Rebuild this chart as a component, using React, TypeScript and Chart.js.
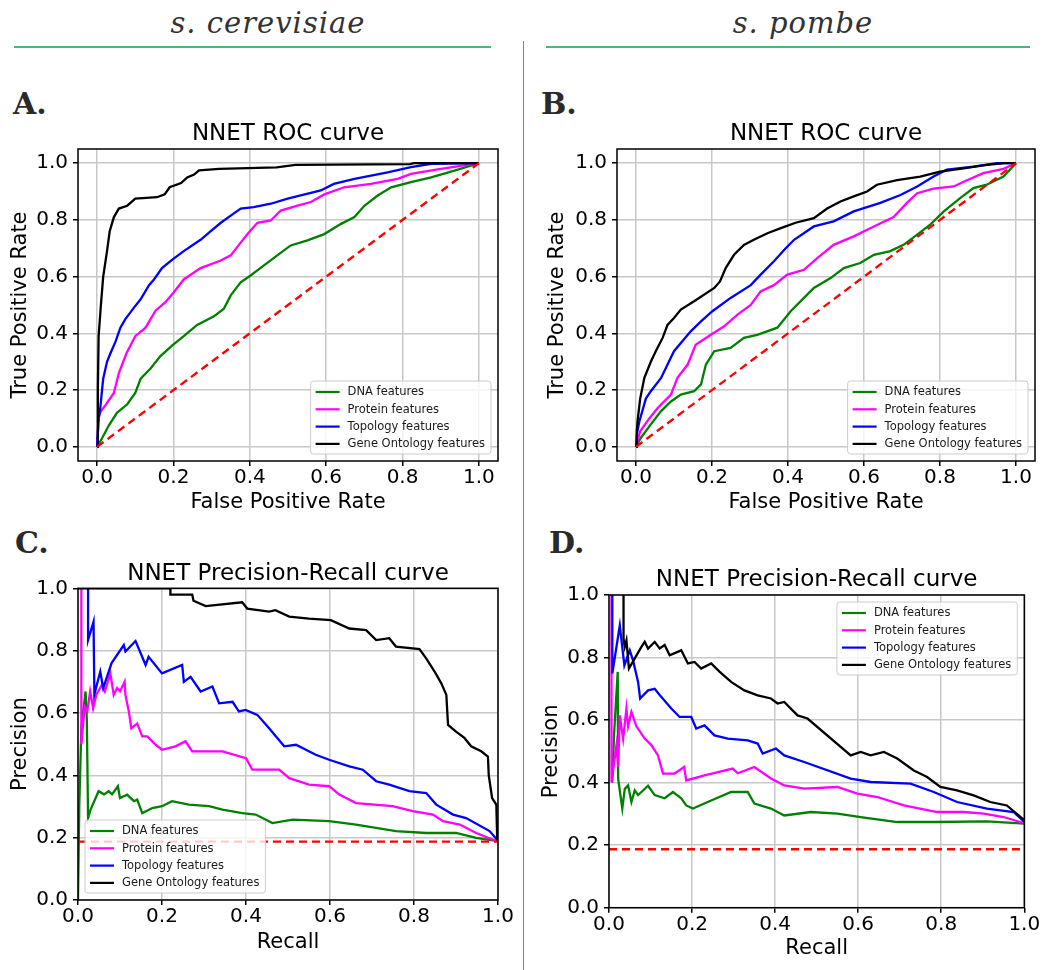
import React, { useEffect, useRef } from "react";
import { Chart, registerables } from "chart.js";

Chart.register(...registerables);

type Pt = [number, number];

// ---------- shared labels / ticks ----------
const TICKS = [0, 0.2, 0.4, 0.6, 0.8, 1.0];
const SERIES_LABELS = ["DNA features", "Protein features", "Topology features", "Gene Ontology features"];
const SERIES_COLORS = ["#008000", "#ff00ff", "#0000ff", "#000000"];
const ROC_BASELINE: Pt[] = [[0, 0], [1, 1]];
const PR_BASELINE_VALUE = 0.187;

// ---------- Panel A : s. cerevisiae ROC ----------
const A_DNA: Pt[] = [[0,0],[0.013,0.03],[0.031,0.076],[0.052,0.12],[0.079,0.15],[0.1,0.19],[0.114,0.24],[0.14,0.276],[0.166,0.32],[0.197,0.358],[0.227,0.39],[0.262,0.43],[0.306,0.46],[0.332,0.487],[0.35,0.534],[0.376,0.58],[0.402,0.604],[0.437,0.64],[0.472,0.675],[0.507,0.71],[0.551,0.728],[0.595,0.75],[0.639,0.786],[0.674,0.81],[0.7,0.85],[0.735,0.886],[0.77,0.915],[0.822,0.933],[0.875,0.95],[0.936,0.974],[1,1]];
const A_PROT: Pt[] = [[0,0],[0.004,0.1],[0.007,0.12],[0.022,0.147],[0.044,0.19],[0.057,0.26],[0.077,0.33],[0.1,0.39],[0.127,0.42],[0.153,0.48],[0.179,0.51],[0.201,0.545],[0.227,0.59],[0.271,0.63],[0.324,0.657],[0.35,0.675],[0.376,0.72],[0.394,0.75],[0.42,0.79],[0.455,0.798],[0.481,0.833],[0.525,0.85],[0.56,0.863],[0.595,0.89],[0.647,0.915],[0.717,0.927],[0.787,0.945],[0.822,0.962],[0.892,0.978],[1,1]];
const A_TOPO: Pt[] = [[0,0],[0.004,0.1],[0.007,0.12],[0.016,0.24],[0.026,0.3],[0.035,0.33],[0.048,0.37],[0.061,0.42],[0.074,0.45],[0.096,0.49],[0.114,0.52],[0.136,0.57],[0.149,0.59],[0.17,0.63],[0.197,0.66],[0.227,0.69],[0.271,0.73],[0.297,0.76],[0.324,0.79],[0.35,0.815],[0.376,0.84],[0.41,0.845],[0.455,0.857],[0.499,0.875],[0.586,0.904],[0.62,0.927],[0.674,0.945],[0.761,0.968],[0.822,0.986],[0.875,0.998],[1,1]];
const A_GO: Pt[] = [[0,0],[0.002,0.2],[0.004,0.39],[0.01,0.5],[0.016,0.6],[0.026,0.69],[0.033,0.76],[0.044,0.81],[0.057,0.84],[0.079,0.85],[0.1,0.875],[0.157,0.88],[0.177,0.89],[0.19,0.915],[0.22,0.93],[0.236,0.95],[0.254,0.96],[0.267,0.975],[0.32,0.98],[0.47,0.985],[0.52,0.994],[0.82,0.997],[0.83,1],[1,1]];

// ---------- Panel B : s. pombe ROC ----------
const B_DNA: Pt[] = [[0,0],[0.013,0.032],[0.039,0.079],[0.066,0.126],[0.092,0.16],[0.118,0.184],[0.153,0.196],[0.171,0.22],[0.184,0.29],[0.206,0.337],[0.249,0.349],[0.284,0.384],[0.319,0.395],[0.372,0.42],[0.407,0.478],[0.442,0.525],[0.468,0.56],[0.512,0.595],[0.547,0.63],[0.59,0.648],[0.626,0.677],[0.669,0.69],[0.704,0.712],[0.74,0.748],[0.774,0.783],[0.81,0.83],[0.853,0.877],[0.888,0.912],[0.923,0.924],[0.967,0.953],[1,1]];
const B_PROT: Pt[] = [[0,0],[0.011,0.055],[0.035,0.1],[0.057,0.137],[0.092,0.184],[0.109,0.243],[0.136,0.29],[0.157,0.36],[0.197,0.395],[0.232,0.425],[0.267,0.466],[0.302,0.5],[0.328,0.548],[0.363,0.57],[0.398,0.607],[0.442,0.624],[0.477,0.665],[0.52,0.712],[0.573,0.742],[0.626,0.777],[0.678,0.81],[0.713,0.86],[0.74,0.894],[0.783,0.91],[0.836,0.918],[0.871,0.94],[0.914,0.965],[0.967,0.98],[1,1]];
const B_TOPO: Pt[] = [[0,0],[0.003,0.05],[0.009,0.09],[0.026,0.17],[0.039,0.196],[0.066,0.243],[0.083,0.29],[0.1,0.337],[0.118,0.366],[0.144,0.407],[0.171,0.442],[0.201,0.478],[0.249,0.525],[0.302,0.57],[0.328,0.607],[0.363,0.654],[0.394,0.7],[0.416,0.73],[0.468,0.777],[0.52,0.795],[0.573,0.83],[0.643,0.86],[0.696,0.888],[0.74,0.918],[0.783,0.953],[0.818,0.977],[0.888,0.988],[0.95,1],[1,1]];
const B_GO: Pt[] = [[0,0],[0.002,0.05],[0.004,0.09],[0.011,0.17],[0.022,0.243],[0.039,0.3],[0.052,0.337],[0.07,0.384],[0.083,0.43],[0.1,0.454],[0.118,0.484],[0.153,0.513],[0.206,0.56],[0.221,0.583],[0.236,0.63],[0.258,0.677],[0.284,0.712],[0.31,0.73],[0.346,0.753],[0.381,0.771],[0.42,0.79],[0.468,0.806],[0.503,0.84],[0.538,0.865],[0.573,0.883],[0.608,0.9],[0.634,0.924],[0.687,0.94],[0.748,0.953],[0.8,0.97],[0.862,0.982],[0.923,0.994],[0.97,1],[1,1]];

// ---------- Panel C : s. cerevisiae Precision-Recall ----------
const C_DNA: Pt[] = [[0,0],[0.003,0.3],[0.008,0.55],[0.012,0.6],[0.018,0.669],[0.021,0.58],[0.024,0.263],[0.03,0.29],[0.049,0.349],[0.062,0.339],[0.073,0.349],[0.081,0.339],[0.095,0.365],[0.1,0.327],[0.117,0.338],[0.133,0.317],[0.141,0.322],[0.153,0.279],[0.177,0.295],[0.2,0.301],[0.224,0.317],[0.264,0.306],[0.312,0.301],[0.344,0.29],[0.391,0.279],[0.423,0.274],[0.463,0.247],[0.511,0.258],[0.598,0.253],[0.662,0.242],[0.757,0.221],[0.829,0.215],[0.9,0.215],[0.948,0.199],[1,0.189]];
const C_PROT: Pt[] = [[0.008,1],[0.008,0.5],[0.016,0.62],[0.022,0.605],[0.029,0.669],[0.036,0.615],[0.044,0.66],[0.057,0.69],[0.064,0.669],[0.077,0.727],[0.085,0.658],[0.093,0.68],[0.1,0.669],[0.111,0.7],[0.113,0.658],[0.121,0.605],[0.127,0.551],[0.141,0.566],[0.153,0.525],[0.165,0.525],[0.185,0.498],[0.2,0.482],[0.232,0.493],[0.256,0.509],[0.272,0.477],[0.344,0.477],[0.4,0.455],[0.415,0.418],[0.479,0.418],[0.503,0.391],[0.55,0.37],[0.598,0.365],[0.622,0.338],[0.662,0.311],[0.749,0.301],[0.797,0.285],[0.845,0.274],[0.869,0.253],[0.909,0.242],[0.948,0.215],[1,0.187]];
const C_TOPO: Pt[] = [[0.024,1],[0.024,0.834],[0.037,0.893],[0.039,0.66],[0.053,0.733],[0.06,0.68],[0.08,0.76],[0.109,0.818],[0.113,0.797],[0.137,0.831],[0.161,0.754],[0.168,0.78],[0.2,0.727],[0.248,0.754],[0.252,0.7],[0.268,0.716],[0.292,0.669],[0.32,0.685],[0.336,0.631],[0.368,0.636],[0.383,0.605],[0.399,0.61],[0.427,0.594],[0.455,0.551],[0.491,0.493],[0.519,0.498],[0.566,0.466],[0.598,0.45],[0.646,0.429],[0.678,0.418],[0.71,0.381],[0.741,0.37],[0.789,0.349],[0.829,0.343],[0.853,0.306],[0.893,0.274],[0.924,0.263],[0.98,0.221],[1,0.19]];
const C_GO: Pt[] = [[0,1],[0.22,1],[0.22,0.98],[0.272,0.98],[0.275,0.96],[0.304,0.943],[0.391,0.955],[0.403,0.935],[0.455,0.925],[0.47,0.93],[0.503,0.909],[0.55,0.903],[0.602,0.898],[0.646,0.871],[0.686,0.866],[0.71,0.834],[0.741,0.84],[0.757,0.813],[0.813,0.805],[0.829,0.775],[0.849,0.733],[0.865,0.695],[0.877,0.658],[0.881,0.562],[0.9,0.54],[0.92,0.52],[0.936,0.493],[0.96,0.477],[0.976,0.46],[0.978,0.4],[0.986,0.327],[0.996,0.306],[0.998,0.2],[1,0.19]];

// ---------- Panel D : s. pombe Precision-Recall ----------
const D_DNA: Pt[] = [[0.008,0.4],[0.012,0.55],[0.021,0.754],[0.022,0.413],[0.032,0.317],[0.038,0.38],[0.046,0.391],[0.054,0.338],[0.062,0.375],[0.07,0.36],[0.078,0.37],[0.094,0.39],[0.11,0.36],[0.134,0.35],[0.154,0.37],[0.174,0.35],[0.186,0.327],[0.202,0.317],[0.246,0.343],[0.294,0.37],[0.334,0.37],[0.35,0.333],[0.39,0.317],[0.422,0.295],[0.486,0.306],[0.55,0.301],[0.606,0.29],[0.694,0.274],[0.79,0.274],[0.91,0.276],[1,0.269]];
const D_PROT: Pt[] = [[0.006,1],[0.006,0.402],[0.018,0.52],[0.022,0.45],[0.026,0.615],[0.034,0.54],[0.042,0.637],[0.046,0.58],[0.054,0.626],[0.066,0.58],[0.086,0.541],[0.102,0.52],[0.118,0.487],[0.13,0.429],[0.158,0.429],[0.181,0.45],[0.186,0.407],[0.23,0.423],[0.298,0.445],[0.31,0.43],[0.35,0.45],[0.39,0.413],[0.422,0.391],[0.47,0.381],[0.55,0.386],[0.598,0.365],[0.646,0.354],[0.71,0.327],[0.79,0.306],[0.854,0.306],[0.902,0.301],[0.95,0.29],[1,0.27]];
const D_TOPO: Pt[] = [[0.008,1],[0.008,0.749],[0.026,0.903],[0.037,0.775],[0.05,0.823],[0.058,0.79],[0.07,0.722],[0.075,0.669],[0.094,0.695],[0.11,0.7],[0.122,0.68],[0.15,0.637],[0.17,0.61],[0.198,0.61],[0.21,0.573],[0.23,0.583],[0.254,0.551],[0.286,0.541],[0.334,0.535],[0.358,0.525],[0.37,0.493],[0.402,0.509],[0.422,0.487],[0.47,0.466],[0.582,0.413],[0.63,0.402],[0.726,0.397],[0.782,0.37],[0.838,0.338],[0.91,0.317],[0.974,0.306],[1,0.274]];
const D_GO: Pt[] = [[0.035,1],[0.035,0.86],[0.038,0.834],[0.042,0.855],[0.048,0.765],[0.078,0.834],[0.086,0.85],[0.094,0.829],[0.11,0.85],[0.122,0.829],[0.134,0.84],[0.146,0.807],[0.174,0.823],[0.19,0.781],[0.206,0.786],[0.222,0.765],[0.246,0.781],[0.266,0.755],[0.294,0.722],[0.326,0.695],[0.358,0.679],[0.39,0.669],[0.406,0.653],[0.422,0.658],[0.454,0.615],[0.478,0.605],[0.582,0.487],[0.606,0.498],[0.63,0.487],[0.662,0.498],[0.694,0.477],[0.734,0.439],[0.766,0.418],[0.798,0.386],[0.838,0.375],[0.878,0.359],[0.918,0.338],[0.958,0.327],[1,0.28]];

const FONT = "'DejaVu Sans', sans-serif";

type LegendPos = "lower right" | "lower left" | "upper right";

interface PanelSpec {
  left: number; top: number; width: number; height: number;
  title: string; xLabel: string; yLabel: string;
  series: Pt[][]; baseline: Pt[]; range: [number, number];
  pad: { left: number; right: number; top: number; bottom: number };
  titlePad: { top: number; bottom: number };
  yAxisW: number; yTitlePad: number;
  xAxisH: number; xTitlePad: number;
  legend: LegendPos;
}

function roundRect(ctx: CanvasRenderingContext2D, x: number, y: number, w: number, h: number, r: number) {
  ctx.beginPath();
  ctx.moveTo(x + r, y);
  ctx.lineTo(x + w - r, y);
  ctx.arcTo(x + w, y, x + w, y + r, r);
  ctx.lineTo(x + w, y + h - r);
  ctx.arcTo(x + w, y + h, x + w - r, y + h, r);
  ctx.lineTo(x + r, y + h);
  ctx.arcTo(x, y + h, x, y + h - r, r);
  ctx.lineTo(x, y + r);
  ctx.arcTo(x, y, x + r, y, r);
  ctx.closePath();
}

function makeOverlay(pos: LegendPos) {
  return {
    id: "frameAndLegend",
    afterDatasetsDraw(chart: any) {
      const ctx: CanvasRenderingContext2D = chart.ctx;
      const a = chart.chartArea;
      ctx.save();
      // frame (spines)
      ctx.strokeStyle = "#000";
      ctx.lineWidth = 1.5;
      ctx.strokeRect(a.left, a.top, a.right - a.left, a.bottom - a.top);
      // legend
      const items = chart.data.datasets
        .filter((d: any) => d.legendIndex !== undefined)
        .sort((p: any, q: any) => p.legendIndex - q.legendIndex);
      ctx.font = `11.5px ${FONT}`;
      const tw = Math.max(...items.map((d: any) => ctx.measureText(d.label).width));
      const w = tw + 43;
      const h = 73;
      const m = 7;
      const x = pos.includes("right") ? a.right - m - w : a.left + m;
      const y = pos.includes("lower") ? a.bottom - m - h : a.top + m;
      roundRect(ctx, x, y, w, h, 3);
      ctx.fillStyle = "rgba(255,255,255,0.8)";
      ctx.fill();
      ctx.strokeStyle = "#cccccc";
      ctx.lineWidth = 1;
      ctx.stroke();
      items.forEach((d: any, i: number) => {
        const cy = y + 11 + i * 17.3;
        ctx.beginPath();
        ctx.strokeStyle = d.borderColor;
        ctx.lineWidth = 2.2;
        ctx.moveTo(x + 5, cy);
        ctx.lineTo(x + 29, cy);
        ctx.stroke();
        ctx.fillStyle = "#1a1a1a";
        ctx.textBaseline = "middle";
        ctx.textAlign = "left";
        ctx.fillText(d.label, x + 37, cy + 0.5);
      });
      ctx.restore();
    },
  };
}

function makeConfig(p: PanelSpec): any {
  const toXY = (pts: Pt[]) => pts.map(([x, y]) => ({ x, y }));
  const curveSets = p.series.map((pts, i) => ({
    label: SERIES_LABELS[i],
    legendIndex: i,
    data: toXY(pts),
    borderColor: SERIES_COLORS[i],
    backgroundColor: SERIES_COLORS[i],
    borderWidth: 2.3,
    pointRadius: 0,
    showLine: true,
    tension: 0,
    fill: false,
  }));
  const baseSet = {
    label: "baseline",
    data: toXY(p.baseline),
    borderColor: "#ff0000",
    backgroundColor: "#ff0000",
    borderWidth: 2.3,
    borderDash: [8, 5],
    pointRadius: 0,
    showLine: true,
    tension: 0,
    fill: false,
  };
  // dataset 0 is drawn on top in Chart.js
  const datasets = [baseSet, ...curveSets.slice().reverse()];
  const axisCommon = (isX: boolean, label: string) => ({
    type: "linear",
    min: p.range[0],
    max: p.range[1],
    afterBuildTicks: (s: any) => {
      s.ticks = TICKS.map((v) => ({ value: v }));
    },
    afterFit: (s: any) => {
      if (isX) s.height = p.xAxisH;
      else s.width = p.yAxisW;
    },
    ticks: {
      font: { family: FONT, size: 20 },
      color: "#000",
      padding: isX ? 0 : 5,
      maxRotation: 0,
      autoSkip: false,
      callback: (v: any) => Number(v).toFixed(1),
    },
    grid: {
      color: "#c8c8c8",
      lineWidth: 1.5,
      tickLength: 5,
      tickColor: "#000",
      tickWidth: 1.5,
    },
    border: { display: false },
    title: {
      display: true,
      text: label,
      color: "#000",
      font: { family: FONT, size: 21 },
      padding: isX ? { top: 0, bottom: p.xTitlePad } : { top: p.yTitlePad, bottom: 0 },
    },
  });
  return {
    type: "scatter",
    data: { datasets },
    options: {
      animation: false,
      responsive: false,
      maintainAspectRatio: false,
      devicePixelRatio: 1,
      layout: { padding: p.pad },
      scales: {
        x: { ...axisCommon(true, p.xLabel), position: "bottom" },
        y: { ...axisCommon(false, p.yLabel), position: "left" },
      },
      plugins: {
        legend: { display: false },
        tooltip: { enabled: false },
        title: {
          display: true,
          text: p.title,
          color: "#000",
          fullSize: false,
          font: { family: FONT, size: 23, weight: "normal" },
          padding: p.titlePad,
        },
      },
    },
    plugins: [makeOverlay(p.legend)],
  };
}

const PR_BASELINE: Pt[] = [[0, PR_BASELINE_VALUE], [1, PR_BASELINE_VALUE]];

const PANELS: PanelSpec[] = [
  {
    left: 0, top: 110, width: 520, height: 410,
    title: "NNET ROC curve", xLabel: "False Positive Rate", yLabel: "True Positive Rate",
    series: [A_DNA, A_PROT, A_TOPO, A_GO], baseline: ROC_BASELINE, range: [-0.05, 1.05],
    pad: { left: 0, right: 22, top: 0, bottom: 0 }, titlePad: { top: 10, bottom: 1.4 },
    yAxisW: 78, yTitlePad: 8.4, xAxisH: 59, xTitlePad: 4.4, legend: "lower right",
  },
  {
    left: 520, top: 110, width: 527, height: 410,
    title: "NNET ROC curve", xLabel: "False Positive Rate", yLabel: "True Positive Rate",
    series: [B_DNA, B_PROT, B_TOPO, B_GO], baseline: ROC_BASELINE, range: [-0.05, 1.05],
    pad: { left: 17, right: 12, top: 0, bottom: 0 }, titlePad: { top: 10, bottom: 1.4 },
    yAxisW: 80, yTitlePad: 8.4, xAxisH: 59, xTitlePad: 4.4, legend: "lower right",
  },
  {
    left: 0, top: 550, width: 520, height: 420,
    title: "NNET Precision-Recall curve", xLabel: "Recall", yLabel: "Precision",
    series: [C_DNA, C_PROT, C_TOPO, C_GO], baseline: PR_BASELINE, range: [0, 1],
    pad: { left: 0, right: 22, top: 0, bottom: 11 }, titlePad: { top: 10, bottom: 0.7 },
    yAxisW: 78, yTitlePad: 8.4, xAxisH: 59, xTitlePad: 3.9, legend: "lower left",
  },
  {
    left: 520, top: 550, width: 527, height: 420,
    title: "NNET Precision-Recall curve", xLabel: "Recall", yLabel: "Precision",
    series: [D_DNA, D_PROT, D_TOPO, D_GO], baseline: PR_BASELINE, range: [0, 1],
    pad: { left: 11, right: 22.7, top: 0, bottom: 3.3 }, titlePad: { top: 16, bottom: 1.4 },
    yAxisW: 78, yTitlePad: 8.4, xAxisH: 59, xTitlePad: 5.1, legend: "upper right",
  },
];

function Panel({ spec }: { spec: PanelSpec }) {
  const ref = useRef<HTMLCanvasElement>(null);
  useEffect(() => {
    const chart = new Chart(ref.current as HTMLCanvasElement, makeConfig(spec));
    return () => chart.destroy();
  }, [spec]);
  return (
    <canvas
      ref={ref}
      width={spec.width}
      height={spec.height}
      style={{ position: "absolute", left: spec.left, top: spec.top, width: spec.width, height: spec.height }}
    />
  );
}

const LETTERS: { text: string; left: number; top: number }[] = [
  { text: "A.", left: 13, top: 89 },
  { text: "B.", left: 541, top: 89 },
  { text: "C.", left: 15, top: 528 },
  { text: "D.", left: 549, top: 528 },
];

export default function App() {
  const header: React.CSSProperties = {
    position: "absolute",
    top: 9,
    fontFamily: "'DejaVu Serif', serif",
    fontStyle: "italic",
    fontSize: 29,
    lineHeight: "29px",
    color: "#333",
    textAlign: "center",
    letterSpacing: 1,
    whiteSpace: "nowrap",
  };
  return (
    <div style={{ position: "absolute", left: 0, top: 0, width: 1047, height: 970, background: "#fff", overflow: "hidden" }}>
      <div style={{ ...header, left: 0, width: 536 }}>s. cerevisiae</div>
      <div style={{ ...header, left: 560, width: 486 }}>s. pombe</div>
      <div style={{ position: "absolute", left: 14, top: 46, width: 477, height: 1.5, background: "#52b47a" }} />
      <div style={{ position: "absolute", left: 546, top: 46, width: 484, height: 1.5, background: "#52b47a" }} />
      <div style={{ position: "absolute", left: 523, top: 41, width: 1, height: 929, background: "#e85a5a" }} />
      {LETTERS.map((l) => (
        <div
          key={l.text}
          style={{
            position: "absolute",
            left: l.left,
            top: l.top,
            fontFamily: "'DejaVu Serif', serif",
            fontWeight: "bold",
            fontSize: 30,
            lineHeight: "30px",
            color: "#2a2a2a",
          }}
        >
          {l.text}
        </div>
      ))}
      {PANELS.map((p, i) => (
        <Panel key={i} spec={p} />
      ))}
    </div>
  );
}
